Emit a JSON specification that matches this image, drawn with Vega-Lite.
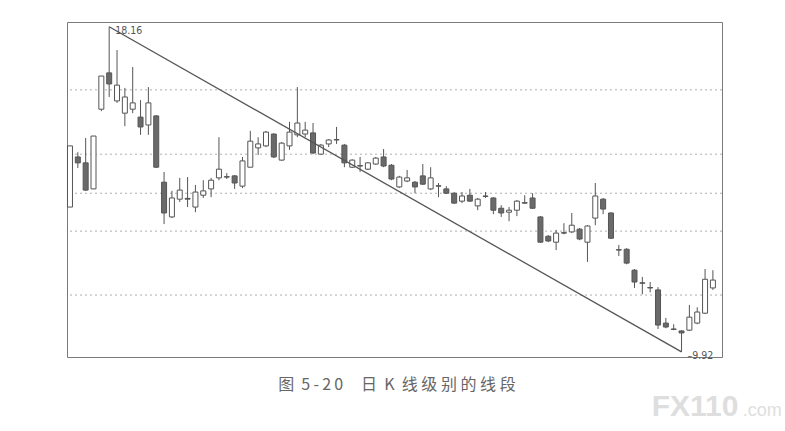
{
  "$schema": "https://vega.github.io/schema/vega-lite/v6.json",
  "width": 655,
  "height": 335,
  "autosize": {"type": "none"},
  "padding": {"left": 67, "top": 22, "right": 63, "bottom": 74},
  "background": "white",
  "config": {"view": {"stroke": "#7a7a7a", "strokeWidth": 1}, "scale": {"continuousPadding": 0}},
  "datasets": {
    "k": [
      {"i":1,"o":13.59,"c":15.14,"h":15.14,"l":13.59},
      {"i":2,"o":14.86,"c":14.71,"h":14.98,"l":14.58},
      {"i":3,"o":14.71,"c":14.02,"h":15.34,"l":14.0},
      {"i":4,"o":14.05,"c":15.39,"h":15.39,"l":14.05},
      {"i":5,"o":16.07,"c":16.91,"h":16.91,"l":16.02},
      {"i":6,"o":16.99,"c":16.71,"h":18.16,"l":16.38},
      {"i":7,"o":16.28,"c":16.68,"h":17.57,"l":16.23},
      {"i":8,"o":15.97,"c":16.38,"h":16.61,"l":15.64},
      {"i":9,"o":16.07,"c":16.23,"h":17.14,"l":15.97},
      {"i":10,"o":15.87,"c":15.62,"h":16.30,"l":15.42},
      {"i":11,"o":15.67,"c":16.23,"h":16.63,"l":15.42},
      {"i":12,"o":15.9,"c":14.6,"h":15.92,"l":14.58},
      {"i":13,"o":14.22,"c":13.44,"h":14.48,"l":13.16},
      {"i":14,"o":13.34,"c":13.82,"h":14.0,"l":13.31},
      {"i":15,"o":13.79,"c":14.02,"h":14.33,"l":13.72},
      {"i":16,"o":13.81,"c":13.79,"h":14.35,"l":13.59},
      {"i":17,"o":13.59,"c":13.97,"h":14.15,"l":13.46},
      {"i":18,"o":13.89,"c":14.0,"h":14.27,"l":13.82},
      {"i":19,"o":14.05,"c":14.27,"h":14.33,"l":13.84},
      {"i":20,"o":14.33,"c":14.55,"h":15.36,"l":14.27},
      {"i":21,"o":14.36,"c":14.35,"h":14.45,"l":14.3},
      {"i":22,"o":14.38,"c":14.2,"h":14.4,"l":14.05},
      {"i":23,"o":14.12,"c":14.76,"h":14.86,"l":14.07},
      {"i":24,"o":14.6,"c":15.26,"h":15.52,"l":14.6},
      {"i":25,"o":15.09,"c":15.19,"h":15.36,"l":14.91},
      {"i":26,"o":15.14,"c":15.49,"h":15.52,"l":15.11},
      {"i":27,"o":15.44,"c":14.86,"h":15.46,"l":14.83},
      {"i":28,"o":14.78,"c":15.21,"h":15.24,"l":14.76},
      {"i":29,"o":15.14,"c":15.49,"h":15.75,"l":15.04},
      {"i":30,"o":15.42,"c":15.72,"h":16.63,"l":15.36},
      {"i":31,"o":15.44,"c":15.54,"h":15.75,"l":15.36},
      {"i":32,"o":15.47,"c":14.96,"h":15.72,"l":14.93},
      {"i":33,"o":14.93,"c":15.16,"h":15.19,"l":14.91},
      {"i":34,"o":15.19,"c":15.29,"h":15.31,"l":15.11},
      {"i":35,"o":15.3,"c":15.29,"h":15.62,"l":15.19},
      {"i":36,"o":15.16,"c":14.71,"h":15.19,"l":14.6},
      {"i":37,"o":14.6,"c":14.78,"h":14.8,"l":14.58},
      {"i":38,"o":14.64,"c":14.63,"h":14.86,"l":14.48},
      {"i":39,"o":14.55,"c":14.71,"h":14.73,"l":14.53},
      {"i":40,"o":14.68,"c":14.83,"h":14.86,"l":14.66},
      {"i":41,"o":14.86,"c":14.63,"h":15.06,"l":14.6},
      {"i":42,"o":14.65,"c":14.3,"h":14.68,"l":14.27},
      {"i":43,"o":14.1,"c":14.35,"h":14.38,"l":14.07},
      {"i":44,"o":14.25,"c":14.33,"h":14.53,"l":14.22},
      {"i":45,"o":14.22,"c":14.1,"h":14.25,"l":13.94},
      {"i":46,"o":14.38,"c":14.17,"h":14.68,"l":14.15},
      {"i":47,"o":14.05,"c":14.33,"h":14.6,"l":14.02},
      {"i":48,"o":14.13,"c":14.12,"h":14.2,"l":13.84},
      {"i":49,"o":14.05,"c":13.94,"h":14.12,"l":13.92},
      {"i":50,"o":13.94,"c":13.69,"h":13.97,"l":13.67},
      {"i":51,"o":13.74,"c":13.87,"h":13.97,"l":13.69},
      {"i":52,"o":13.89,"c":13.74,"h":14.05,"l":13.72},
      {"i":53,"o":13.62,"c":13.79,"h":13.82,"l":13.51},
      {"i":54,"o":13.87,"c":13.86,"h":13.97,"l":13.82},
      {"i":55,"o":13.82,"c":13.51,"h":13.84,"l":13.41},
      {"i":56,"o":13.56,"c":13.44,"h":13.64,"l":13.34},
      {"i":57,"o":13.46,"c":13.51,"h":13.59,"l":13.23},
      {"i":58,"o":13.51,"c":13.74,"h":13.77,"l":13.36},
      {"i":59,"o":13.7,"c":13.69,"h":13.89,"l":13.67},
      {"i":60,"o":13.82,"c":13.56,"h":13.94,"l":13.54},
      {"i":61,"o":13.34,"c":12.7,"h":13.36,"l":12.68},
      {"i":62,"o":12.85,"c":12.73,"h":12.88,"l":12.7},
      {"i":63,"o":12.7,"c":12.93,"h":13.01,"l":12.5},
      {"i":64,"o":12.94,"c":12.93,"h":13.18,"l":12.9},
      {"i":65,"o":12.96,"c":13.13,"h":13.44,"l":12.93},
      {"i":66,"o":13.03,"c":12.78,"h":13.06,"l":12.75},
      {"i":67,"o":12.7,"c":13.11,"h":13.13,"l":12.2},
      {"i":68,"o":13.31,"c":13.87,"h":14.2,"l":13.13},
      {"i":69,"o":13.79,"c":13.54,"h":13.82,"l":13.41},
      {"i":70,"o":13.44,"c":12.8,"h":13.46,"l":12.78},
      {"i":71,"o":12.51,"c":12.5,"h":12.63,"l":12.35},
      {"i":72,"o":12.52,"c":12.17,"h":12.55,"l":12.14},
      {"i":73,"o":11.99,"c":11.69,"h":12.02,"l":11.54},
      {"i":74,"o":11.67,"c":11.66,"h":11.82,"l":11.38},
      {"i":75,"o":11.55,"c":11.54,"h":11.69,"l":11.43},
      {"i":76,"o":11.49,"c":10.6,"h":11.56,"l":10.5},
      {"i":77,"o":10.65,"c":10.55,"h":10.78,"l":10.52},
      {"i":78,"o":10.5,"c":10.49,"h":10.62,"l":10.47},
      {"i":79,"o":10.45,"c":10.4,"h":10.47,"l":9.92},
      {"i":80,"o":10.47,"c":10.8,"h":11.11,"l":10.45},
      {"i":81,"o":10.65,"c":10.93,"h":11.05,"l":10.62},
      {"i":82,"o":10.9,"c":11.76,"h":12.02,"l":10.88},
      {"i":83,"o":11.54,"c":11.74,"h":11.99,"l":11.49}
    ],
    "grid": [{"g":16.56},{"g":14.93},{"g":13.94},{"g":12.98},{"g":11.36}],
    "seg": [{"i":6,"p":18.16,"label":"18.16"},{"i":79,"p":9.92,"label":"–9.92"}],
    "one": [{"t":"caption"}]
  },
  "layer": [
    {
      "data": {"name": "grid"},
      "mark": {"type": "rule", "color": "#9a9a9a", "strokeWidth": 1, "strokeDash": [2, 3], "opacity": 0.8},
      "encoding": {
        "y": {"field": "g", "type": "quantitative", "scale": {"domain": [9.79, 18.28], "nice": false, "zero": false}, "axis": null}
      }
    },
    {
      "data": {"name": "k"},
      "mark": {"type": "rule", "color": "#555555", "strokeWidth": 1},
      "encoding": {
        "x": {"field": "i", "type": "quantitative", "scale": {"domain": [0.62, 84.16], "nice": false, "zero": false, "padding": 0}, "axis": null},
        "y": {"field": "l", "type": "quantitative", "scale": {"domain": [9.79, 18.28], "nice": false, "zero": false}, "axis": null},
        "y2": {"field": "h"}
      }
    },
    {
      "data": {"name": "k"},
      "mark": {"type": "bar", "size": 5, "stroke": "#555555", "strokeWidth": 1},
      "encoding": {
        "x": {"field": "i", "type": "quantitative", "scale": {"domain": [0.62, 84.16], "nice": false, "zero": false, "padding": 0}, "axis": null},
        "y": {"field": "o", "type": "quantitative", "scale": {"domain": [9.79, 18.28], "nice": false, "zero": false}, "axis": null},
        "y2": {"field": "c"},
        "fill": {"condition": {"test": "datum.c > datum.o", "value": "#ffffff"}, "value": "#6a6a6a"}
      }
    },
    {
      "data": {"name": "seg"},
      "mark": {"type": "line", "color": "#555555", "strokeWidth": 1.3},
      "encoding": {
        "x": {"field": "i", "type": "quantitative", "scale": {"domain": [0.62, 84.16], "nice": false, "zero": false, "padding": 0}, "axis": null},
        "y": {"field": "p", "type": "quantitative", "scale": {"domain": [9.79, 18.28], "nice": false, "zero": false}, "axis": null}
      }
    },
    {
      "data": {"name": "seg"},
      "mark": {"type": "text", "align": "left", "baseline": "middle", "dx": 6, "dy": 4, "font": "DejaVu Sans Condensed", "fontSize": 10.5, "color": "#555555"},
      "encoding": {
        "x": {"field": "i", "type": "quantitative", "scale": {"domain": [0.62, 84.16], "nice": false, "zero": false, "padding": 0}, "axis": null},
        "y": {"field": "p", "type": "quantitative", "scale": {"domain": [9.79, 18.28], "nice": false, "zero": false}, "axis": null},
        "text": {"field": "label"}
      }
    },
    {
      "data": {"name": "one"},
      "mark": {"type": "text", "align": "center", "baseline": "middle", "font": "Noto Sans CJK SC", "fontSize": 16, "color": "#666666", "clip": false},
      "encoding": {
        "x": {"datum": 42.7, "type": "quantitative", "scale": {"domain": [0.62, 84.16], "nice": false, "zero": false, "padding": 0}, "axis": null},
        "y": {"datum": 9.08, "type": "quantitative", "scale": {"domain": [9.79, 18.28], "nice": false, "zero": false}, "axis": null},
        "text": {"value": "图\u00a0\u00a05\u2009-\u20092\u20090\u00a0\u00a0\u00a0\u00a0\u00a0日\u00a0\u00a0K\u00a0\u00a0线\u00a0级\u00a0别\u00a0的\u00a0线\u00a0段"}
      }
    },
    {
      "data": {"name": "one"},
      "mark": {"type": "text", "align": "left", "baseline": "alphabetic", "font": "Liberation Sans", "fontSize": 30, "fontWeight": "bold", "color": "#dedede", "clip": false},
      "encoding": {
        "x": {"datum": 75.2, "type": "quantitative", "scale": {"domain": [0.62, 84.16], "nice": false, "zero": false, "padding": 0}, "axis": null},
        "y": {"datum": 8.29, "type": "quantitative", "scale": {"domain": [9.79, 18.28], "nice": false, "zero": false}, "axis": null},
        "text": {"value": "FX110"}
      }
    },
    {
      "data": {"name": "one"},
      "mark": {"type": "text", "align": "left", "baseline": "alphabetic", "font": "Liberation Sans", "fontSize": 18, "color": "#dedede", "clip": false},
      "encoding": {
        "x": {"datum": 86.8, "type": "quantitative", "scale": {"domain": [0.62, 84.16], "nice": false, "zero": false, "padding": 0}, "axis": null},
        "y": {"datum": 8.29, "type": "quantitative", "scale": {"domain": [9.79, 18.28], "nice": false, "zero": false}, "axis": null},
        "text": {"value": ".com"}
      }
    }
  ]
}
